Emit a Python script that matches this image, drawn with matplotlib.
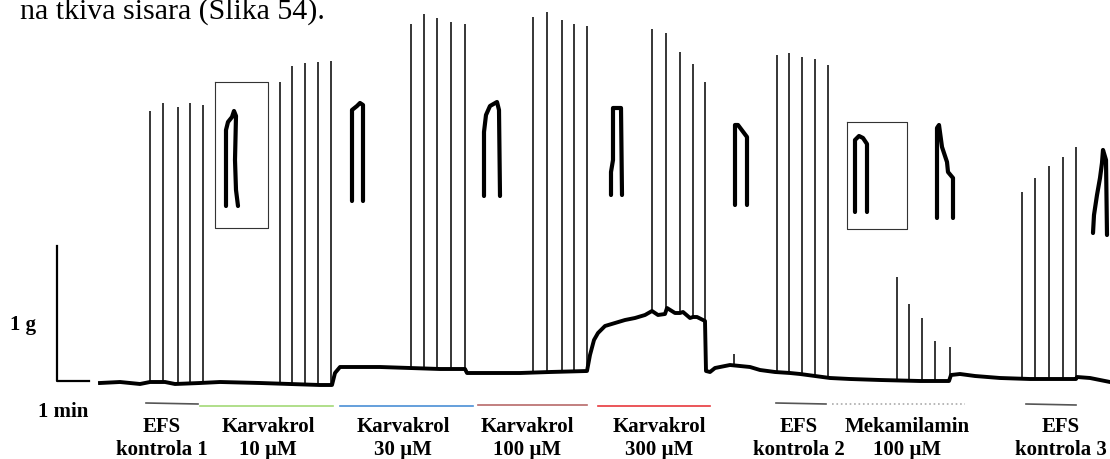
import numpy as np
import matplotlib.pyplot as plt

# all values are in picture pixels (x to the right, y downward)

# baseline of the recording
base_x = [100, 120, 140, 150, 165, 175, 200, 220, 260, 290, 320, 332, 335, 340, 360, 380, 410, 440, 465,
          467, 480, 520, 550, 587, 590, 594, 598, 605, 615, 625, 635, 645, 652, 658, 665, 667, 675, 680,
          683, 690, 693, 697, 705, 706, 710, 715, 730, 740, 750, 760, 775, 790, 800, 815, 830, 850, 880,
          920, 949, 951, 960, 975, 1000, 1030, 1076, 1077, 1090, 1110]
base_y = [383, 382, 384, 382, 382, 384, 383, 382, 383, 384, 385, 385, 373, 367, 367, 367, 368, 369, 369,
          373, 373, 373, 372, 371, 355, 340, 333, 326, 323, 320, 318, 315, 311, 315, 314, 308, 313, 313,
          312, 318, 317, 317, 321, 371, 372, 368, 365, 366, 367, 370, 372, 373, 374, 376, 378, 379, 380,
          381, 381, 375, 374, 376, 378, 379, 379, 377, 378, 382]

# EFS-evoked contractions: position and peak
spike_x = [150, 163, 178, 190, 203,
           280, 292, 305, 318, 331,
           411, 424, 437, 451, 465,
           533, 547, 562, 574, 587,
           652, 666, 680, 693, 705,
           777, 789, 802, 815, 828,
           897, 909, 922, 935, 950,
           1022, 1035, 1049, 1063, 1076,
           734]
spike_top = [111, 103, 107, 103, 105,
             82, 66, 63, 62, 61,
             24, 14, 18, 22, 24,
             17, 12, 20, 24, 26,
             29, 33, 52, 64, 82,
             55, 53, 57, 59, 65,
             277, 304, 318, 341, 347,
             192, 178, 166, 157, 147,
             354]

# enlarged single contractions
inset_x = [
    [226, 226, 228, 232, 234, 236, 235, 236, 238],
    [352, 352, 357, 360, 363, 363],
    [484, 484, 486, 490, 497, 499, 500],
    [611, 611, 613, 613, 621, 622],
    [735, 735, 738, 747, 747],
    [855, 855, 859, 863, 867, 867],
    [937, 937, 939, 942, 947, 948, 953, 953],
    [1093, 1094, 1097, 1100, 1102, 1103, 1106, 1107],
]
inset_y = [
    [206, 130, 122, 117, 111, 116, 160, 190, 206],
    [201, 110, 106, 103, 105, 201],
    [196, 132, 115, 106, 102, 110, 196],
    [195, 172, 160, 108, 108, 195],
    [205, 125, 125, 137, 205],
    [212, 140, 136, 138, 144, 212],
    [218, 128, 125, 147, 162, 172, 178, 218],
    [233, 215, 195, 178, 163, 150, 160, 235],
]
box_x0 = [215, 847]
box_x1 = [268, 907]
box_y0 = [82, 122]
box_y1 = [228, 229]

# treatment periods
labels_top = ['EFS', 'Karvakrol', 'Karvakrol', 'Karvakrol', 'Karvakrol', 'EFS', 'Mekamilamin', 'EFS']
labels_bot = ['kontrola 1', '10 µM', '30 µM', '100 µM', '300 µM', 'kontrola 2', '100 µM', 'kontrola 3']
label_cx = [162, 268, 403, 527, 659, 799, 907, 1061]
bar_x0 = [146, 200, 340, 478, 598, 776, 832, 1026]
bar_x1 = [198, 333, 473, 587, 710, 826, 965, 1076]
bar_y0 = [403, 406, 406, 405, 406, 403, 404, 404]
bar_y1 = [404, 406, 406, 405, 406, 404, 404, 405]
bar_col = ['#555555', '#a3d977', '#4a8fd6', '#b86a6a', '#e8383d', '#555555', '#aaaaaa', '#555555']
bar_ls = ['-', '-', '-', '-', '-', '-', ':', '-']

fig = plt.figure(figsize=(11.1, 4.59), dpi=100)
ax = fig.add_axes([0, 0, 1, 1])
ax.set_xlim(0, 1110)
ax.set_ylim(459, 0)
ax.axis('off')

serif = 'Liberation Serif'

# recording trace
ax.plot(base_x, base_y, color='black', lw=2.8, solid_joinstyle='round')
foot = np.interp(spike_x, base_x, base_y)
ax.vlines(spike_x, spike_top, foot, color='black', lw=1.1)

# insets and their frames
for xs, ys in zip(inset_x, inset_y):
    ax.plot(xs, ys, color='black', lw=3, solid_capstyle='round', solid_joinstyle='round')
for x0, x1, y0, y1 in zip(box_x0, box_x1, box_y0, box_y1):
    ax.plot([x0, x1, x1, x0, x0], [y0, y0, y1, y1, y0], color='#333333', lw=0.8)

# scale bar
ax.plot([57, 57, 89], [246, 381, 381], color='black', lw=1.6)
ax.text(10, 330, '1 g', family=serif, weight='bold', fontsize=15, va='baseline')
ax.text(38, 417, '1 min', family=serif, weight='bold', fontsize=15, va='baseline')

# treatment bars and labels
for i in range(len(labels_top)):
    ax.plot([bar_x0[i], bar_x1[i]], [bar_y0[i], bar_y1[i]], color=bar_col[i], ls=bar_ls[i], lw=1.2)
    ax.text(label_cx[i], 432, labels_top[i], family=serif, weight='bold', fontsize=15,
            ha='center', va='baseline')
    ax.text(label_cx[i], 455, labels_bot[i], family=serif, weight='bold', fontsize=15,
            ha='center', va='baseline')

# leftover line of the document text above the figure
ax.text(20, 19, 'na tkiva sisara (Slika 54).', family=serif, fontsize=21.5, va='baseline')

fig.savefig('out.png', dpi=100)
